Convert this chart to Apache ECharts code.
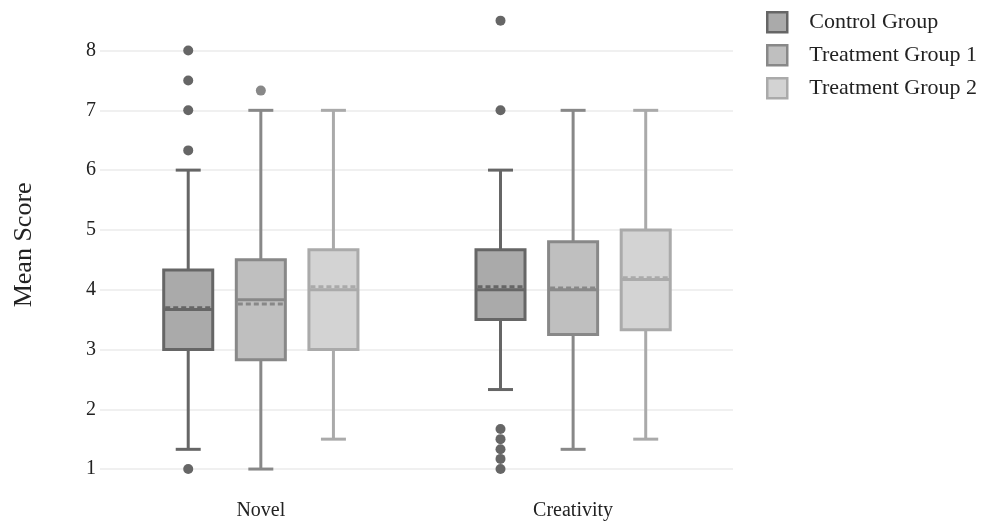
<!DOCTYPE html>
<html>
<head>
<meta charset="utf-8">
<script src="https://cdn.jsdelivr.net/npm/echarts@6/dist/echarts.min.js"></script>
<style>
  html, body { margin: 0; padding: 0; background: #ffffff; }
  #chart { width: 984px; height: 524px; }
</style>
</head>
<body>
<div id="chart"></div>
<script>
// Categories and groups
const categories = ['Novel', 'Creativity'];
const groupNames = ['Control Group', 'Treatment Group 1', 'Treatment Group 2'];

// Per category: [lower whisker, Q1, median, Q3, upper whisker]
const controlStats    = [[1.33, 3.00, 3.67, 4.33, 6.00], [2.33, 3.50, 4.00, 4.67, 6.00]];
const treatment1Stats = [[1.00, 2.83, 3.83, 4.50, 7.00], [1.33, 3.25, 4.00, 4.80, 7.00]];
const treatment2Stats = [[1.50, 3.00, 4.00, 4.67, 7.00], [1.50, 3.33, 4.17, 5.00, 7.00]];

// Group means per category
const controlMeans    = [3.70, 4.05];
const treatment1Means = [3.76, 4.03];
const treatment2Means = [4.05, 4.20];

// Outlying observations per category
const controlOutliers    = [[8.00, 7.50, 7.00, 6.33, 1.00], [8.50, 7.00, 1.67, 1.50, 1.33, 1.17, 1.00]];
const treatment1Outliers = [[7.33], []];
const treatment2Outliers = [[], []];

// Value-axis tick labels
const yTickValues = [1, 2, 3, 4, 5, 6, 7, 8];

// Visual settings
const lineColors = ['#666666', '#888888', '#aaaaaa'];
const fillColors = ['#aaaaaa', '#bfbfbf', '#d3d3d3'];
const groupOffset = 0.2325;   // distance between neighbouring boxes, in category units
const boxHalf = 0.0785;       // half box width, in category units
const capHalf = 0.04;         // half whisker-cap width
const LW = 3;
const FONT = '"Liberation Serif", "Times New Roman", serif';

const allStats = [controlStats, treatment1Stats, treatment2Stats];
const allMeans = [controlMeans, treatment1Means, treatment2Means];
const allOutliers = [controlOutliers, treatment1Outliers, treatment2Outliers];

function makeRenderer(g) {
  const stroke = lineColors[g];
  const fill = fillColors[g];
  const off = (g - 1) * groupOffset;
  return function (params, api) {
    const cx = api.value(0) + off;
    const lo = api.value(1), q1 = api.value(2), med = api.value(3),
          q3 = api.value(4), hi = api.value(5), mean = api.value(6);
    const P = (x, y) => api.coord([x, y]);
    const top = P(cx, hi), bot = P(cx, lo);
    const boxTL = P(cx - boxHalf, q3), boxBR = P(cx + boxHalf, q1);
    const capL = P(cx - capHalf, hi)[0], capR = P(cx + capHalf, hi)[0];
    const medY = P(cx, med)[1], meanY = P(cx, mean)[1];
    const lineStyle = { stroke: stroke, lineWidth: LW, fill: null };
    return {
      type: 'group',
      children: [
        { type: 'line', shape: { x1: top[0], y1: top[1], x2: top[0], y2: boxTL[1] }, style: lineStyle },
        { type: 'line', shape: { x1: bot[0], y1: boxBR[1], x2: bot[0], y2: bot[1] }, style: lineStyle },
        { type: 'line', shape: { x1: capL, y1: top[1], x2: capR, y2: top[1] }, style: lineStyle },
        { type: 'line', shape: { x1: capL, y1: bot[1], x2: capR, y2: bot[1] }, style: lineStyle },
        { type: 'rect', shape: { x: boxTL[0], y: boxTL[1], width: boxBR[0] - boxTL[0], height: boxBR[1] - boxTL[1] },
          style: { fill: fill, stroke: stroke, lineWidth: LW } },
        { type: 'line', shape: { x1: boxTL[0], y1: medY, x2: boxBR[0], y2: medY }, style: lineStyle },
        { type: 'line', shape: { x1: boxTL[0] + 1.5, y1: meanY, x2: boxBR[0] - 1.5, y2: meanY },
          style: { stroke: stroke, lineWidth: LW, lineDash: [5, 3], fill: null } }
      ]
    };
  };
}

const series = [];
groupNames.forEach((name, g) => {
  series.push({
    type: 'custom',
    name: name,
    renderItem: makeRenderer(g),
    encode: { x: 0, y: [1, 5] },
    data: categories.map((c, k) => [k].concat(allStats[g][k], [allMeans[g][k]])),
    z: 2
  });
  const pts = [];
  categories.forEach((c, k) => {
    allOutliers[g][k].forEach(v => pts.push([k + (g - 1) * groupOffset, v]));
  });
  series.push({
    type: 'scatter',
    name: name,
    symbol: 'circle',
    symbolSize: 10,
    itemStyle: { color: lineColors[g], opacity: 1 },
    data: pts,
    z: 3
  });
});

// Grid line colours: one visible line at each integer value (ticks every 0.25 from 0.75)
const splitColors = ['rgba(0,0,0,0)', '#ebebeb', 'rgba(0,0,0,0)', 'rgba(0,0,0,0)'];

const chart = echarts.init(document.getElementById('chart'), null, { renderer: 'canvas' });
chart.setOption({
  animation: false,
  backgroundColor: '#ffffff',
  grid: { left: 100, right: 251, top: 5.7, bottom: 40, containLabel: false },
  legend: {
    orient: 'vertical',
    left: 761,
    top: 6,
    itemWidth: 20,
    itemHeight: 20,
    itemGap: 10.5,
    textStyle: { fontFamily: FONT, fontSize: 22, color: '#222222', lineHeight: 20, padding: [0, 0, 0, 17] },
    data: groupNames.map((n, g) => ({
      name: n,
      icon: 'rect',
      itemStyle: { color: fillColors[g], borderColor: lineColors[g], borderWidth: 2.5 }
    }))
  },
  xAxis: {
    type: 'value',
    min: -0.515,
    max: 1.512,
    axisLine: { show: false },
    axisTick: { show: false },
    splitLine: { show: false },
    axisLabel: {
      fontFamily: FONT, fontSize: 20, color: '#222222', margin: 17,
      formatter: v => {
        const k = Math.round(v);
        return (Math.abs(v - k) < 1e-6 && categories[k] !== undefined) ? categories[k] : '';
      }
    }
  },
  yAxis: {
    type: 'value',
    min: 0.75,
    max: 8.75,
    interval: 0.25,
    name: 'Mean Score',
    nameLocation: 'middle',
    nameGap: 63,
    nameTextStyle: { fontFamily: FONT, fontSize: 26, color: '#222222' },
    axisLine: { show: false },
    axisTick: { show: false },
    splitLine: { show: true, lineStyle: { color: splitColors, width: 1.5 } },
    axisLabel: {
      fontFamily: FONT, fontSize: 20, color: '#222222', margin: 4,
      formatter: v => {
        const k = Math.round(v);
        return (Math.abs(v - k) < 1e-6 && yTickValues.indexOf(k) >= 0) ? String(k) : '';
      }
    }
  },
  series: series
});
</script>
</body>
</html>
